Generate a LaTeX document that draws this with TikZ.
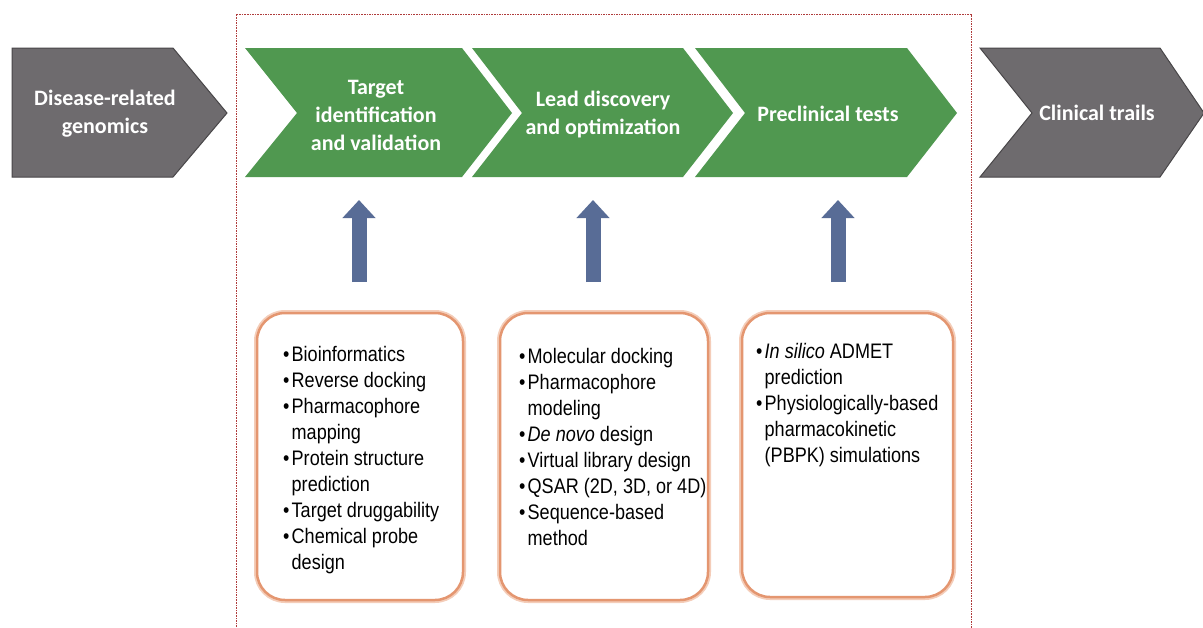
\documentclass[tikz,border=0pt]{standalone}
\usepackage{fontspec}
\setmainfont{Carlito}
\newfontfamily\boxfont[FakeStretch=0.86]{Liberation Sans}
\usetikzlibrary{arrows.meta}
\definecolor{gchev}{RGB}{80,152,80}
\definecolor{graychev}{RGB}{110,107,110}
\definecolor{grayedge}{RGB}{72,70,72}
\definecolor{arrowblue}{RGB}{88,108,150}
\definecolor{boxedge}{RGB}{228,150,112}
\definecolor{boxglow}{RGB}{244,205,185}
\definecolor{dashred}{RGB}{175,60,60}
\newcommand\bitem[1]{\makebox[8.5pt][l]{\textbullet}#1}
\newcommand\citem[1]{\hspace*{8.5pt}#1}
\begin{document}
\begin{tikzpicture}[x=1pt,y=-1pt,
  greenchev/.style={fill=gchev},
  graychevron/.style={fill=graychev,draw=grayedge,line width=1pt},
  chevtext/.style={text=white,font=\fontsize{22}{28}\selectfont\bfseries,align=center,inner sep=0},
  procbox/.style={draw=boxedge,line width=2.5pt,fill=white,rounded corners=28pt,
    preaction={draw=boxglow,line width=6pt}},
  listtext/.style={font=\boxfont\fontsize{21}{26}\selectfont,align=left,anchor=north west,inner sep=0},
  uparrow/.style={draw=arrowblue,line width=15pt,-{Triangle[width=32pt,length=18pt]}},
  frame/.style={draw=dashred,line width=0.9pt,dash pattern=on 1.6pt off 1pt}]
\useasboundingbox (0,0) rectangle (1203,627);
\fill[white] (0,0) rectangle (1203,627);
% dashed frame
\draw[frame] (236,640) -- (236,14) -- (971,14) -- (971,640);
% chevrons
\draw[graychevron] (12,48) -- (173,48) -- (227,113) -- (173,177) -- (12,177) -- cycle;
\fill[greenchev] (245,48) -- (462,48) -- (512,113) -- (462,177) -- (245,177) -- (297,113) -- cycle;
\fill[greenchev] (472,48) -- (683,48) -- (733,113) -- (683,177) -- (472,177) -- (522,113) -- cycle;
\fill[greenchev] (695,48) -- (907,48) -- (957,113) -- (907,177) -- (695,177) -- (745,113) -- cycle;
\draw[graychevron] (980,48) -- (1160,48) -- (1204,113) -- (1160,177) -- (980,177) -- (1032,113) -- cycle;
% chevron labels
\node[chevtext] (genomics) at (105,114) {Disease-related\\genomics};
\node[chevtext] (target) at (376,115) {Target\\identification\\and validation};
\node[chevtext] (lead) at (603,115) {Lead discovery\\and optimization};
\node[chevtext] (preclin) at (828,114) {Preclinical tests};
\node[chevtext] (clinical) at (1097,113) {Clinical trails};
% boxes
\node[procbox,minimum width=206pt,minimum height=287pt] (b1) at (360,456.5) {};
\node[procbox,minimum width=208pt,minimum height=287pt] (b2) at (604,456.5) {};
\node[procbox,minimum width=211pt,minimum height=284pt] (b3) at (847.5,455) {};
\node[listtext] (t1) at (283,346) {\bitem{Bioinformatics}\\\bitem{Reverse docking}\\\bitem{Pharmacophore}\\\citem{mapping}\\\bitem{Protein structure}\\\citem{prediction}\\\bitem{Target druggability}\\\bitem{Chemical probe}\\\citem{design}};
\node[listtext] (t2) at (519,348) {\bitem{Molecular docking}\\\bitem{Pharmacophore}\\\citem{modeling}\\\bitem{\textit{De novo} design}\\\bitem{Virtual library design}\\\bitem{QSAR (2D, 3D, or 4D)}\\\bitem{Sequence-based}\\\citem{method}};
\node[listtext] (t3) at (756,343) {\bitem{\textit{In silico} ADMET}\\\citem{prediction}\\\bitem{Physiologically-based}\\\citem{pharmacokinetic}\\\citem{(PBPK) simulations}};
% arrows
\coordinate (a1s) at (359,282); \coordinate (a1e) at (359,200);
\coordinate (a2s) at (593,282); \coordinate (a2e) at (593,200);
\coordinate (a3s) at (838,282); \coordinate (a3e) at (838,200);
\draw[uparrow] (a1s) -- (a1e);
\draw[uparrow] (a2s) -- (a2e);
\draw[uparrow] (a3s) -- (a3e);
\end{tikzpicture}
\end{document}
